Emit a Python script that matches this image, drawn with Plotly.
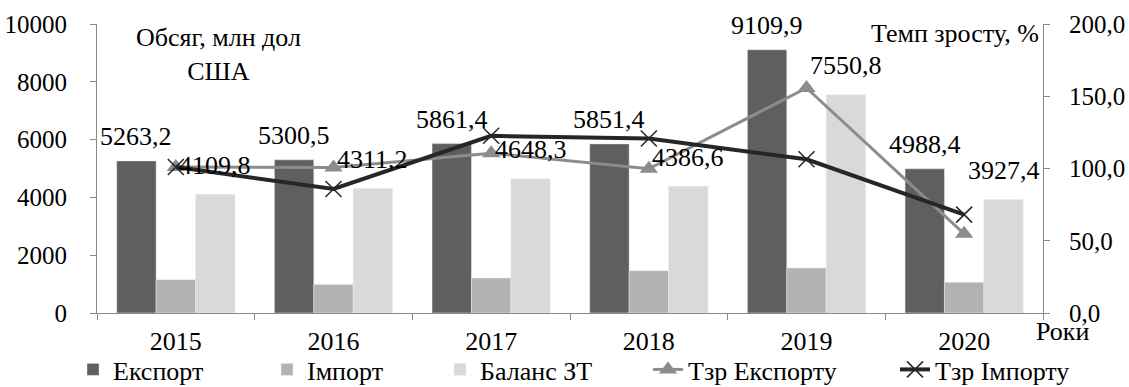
import plotly.graph_objects as go

years = ["2015", "2016", "2017", "2018", "2019", "2020"]
export_vals = [5263.2, 5300.5, 5861.4, 5851.4, 9109.9, 4988.4]
import_vals = [1153.4, 989.3, 1213.1, 1464.8, 1559.1, 1061.0]
balance_vals = [4109.8, 4311.2, 4648.3, 4386.6, 7550.8, 3927.4]
growth_export = [101.0, 100.7, 110.6, 99.8, 155.7, 54.8]
growth_import = [101.0, 85.8, 122.6, 120.7, 106.4, 68.1]

FONT = "Liberation Serif, Times New Roman, serif"
FS = 26
TFS = 25
W, H = 1129, 387
ml, mr, mt, mb = 97, 86, 24, 74
pw = W - ml - mr
ph = H - mt - mb
cat_w = pw / len(years)
bar_w = cat_w * 0.75 / 3

fig = go.Figure()
fig.add_trace(go.Bar(x=years, y=export_vals, name="Експорт", marker_color="#5f5f5f", legend="legend"))
fig.add_trace(go.Bar(x=years, y=import_vals, name="Імпорт", marker_color="#b2b2b2", legend="legend2"))
fig.add_trace(go.Bar(x=years, y=balance_vals, name="Баланс ЗТ", marker_color="#d9d9d9", legend="legend3"))
fig.add_trace(go.Scatter(x=years, y=growth_export, name="Тзр Експорту", yaxis="y2", legend="legend4",
                         mode="lines+markers", line=dict(color="#8c8c8c", width=3),
                         marker=dict(symbol="triangle-up", size=16, color="#8c8c8c")))
fig.add_trace(go.Scatter(x=years, y=growth_import, name="Тзр Імпорту", yaxis="y2", legend="legend5",
                         mode="lines+markers", line=dict(color="#262626", width=4),
                         marker=dict(symbol="x-thin", size=16,
                                     line=dict(color="#262626", width=1.5))))

def fmt(v):
    return f"{v:.1f}".replace(".", ",")

annotations = []
for i, v in enumerate(export_vals):
    annotations.append(dict(x=i, y=v, xref="x", yref="y", text=fmt(v), showarrow=False,
                            xanchor="center", yanchor="middle",
                            xshift=-bar_w, yshift=24, font=dict(family=FONT, size=FS, color="black")))
for i, v in enumerate(balance_vals):
    annotations.append(dict(x=i, y=v, xref="x", yref="y", text=fmt(v), showarrow=False,
                            xanchor="center", yanchor="middle",
                            xshift=bar_w, yshift=29, font=dict(family=FONT, size=FS, color="black")))

annotations += [
    dict(text="Обсяг, млн дол<br>США", xref="paper", yref="paper", x=(218 - ml) / pw, xanchor="center",
         y=1 - (55 - mt) / ph, yanchor="middle",
         showarrow=False, align="center", font=dict(family=FONT, size=FS, color="black")),
    dict(text="Темп зросту, %", xref="paper", yref="paper", x=1, xanchor="right", xshift=-2,
         y=1 - (33 - mt) / ph, yanchor="middle", showarrow=False,
         font=dict(family=FONT, size=FS, color="black")),
    dict(text="Роки", xref="paper", yref="paper", x=(1062 - ml) / pw, xanchor="center",
         y=-(331 - 313) / ph, yanchor="middle", showarrow=False,
         font=dict(family=FONT, size=FS, color="black")),
]

legend_text_x = [118, 312, 485, 693, 940]
legend_top = 346
legends = {}
for k, tx in enumerate(legend_text_x):
    key = "legend" if k == 0 else f"legend{k + 1}"
    legends[key] = dict(orientation="h", x=(tx - 45 - ml) / pw, xanchor="left",
                        y=-(legend_top - 313) / ph, yanchor="top", bgcolor="rgba(0,0,0,0)",
                        font=dict(family=FONT, size=FS, color="black"))

fig.update_layout(
    width=W, height=H,
    margin=dict(l=ml, r=mr, t=mt, b=mb, autoexpand=False),
    paper_bgcolor="white", plot_bgcolor="white",
    barmode="group", bargap=0.25, bargroupgap=0,
    separators=", ",
    font=dict(family=FONT, size=FS, color="black"),
    showlegend=True,
    xaxis=dict(type="category", showline=True, linecolor="#898989", linewidth=1,
               ticks="outside", ticklen=6, tickcolor="#898989", tickson="boundaries",
               ticklabelstandoff=5, range=[-0.5, 5.5], showgrid=False,
               tickfont=dict(family=FONT, size=FS, color="black")),
    yaxis=dict(range=[0, 10000], dtick=2000, tickformat="d", showline=True, linecolor="#898989",
               ticks="outside", ticklen=6, tickcolor="#898989", showgrid=False, zeroline=False,
               ticklabelstandoff=18, tickfont=dict(family=FONT, size=TFS, color="black")),
    yaxis2=dict(range=[0, 200], dtick=50, tickformat=".1f", overlaying="y", side="right",
                showline=True, linecolor="#898989", ticks="outside", ticklen=6, tickcolor="#898989",
                showgrid=False, zeroline=False, ticklabelstandoff=14,
                tickfont=dict(family=FONT, size=TFS, color="black")),
    annotations=annotations,
    **legends,
)

fig.write_html("out.html")
